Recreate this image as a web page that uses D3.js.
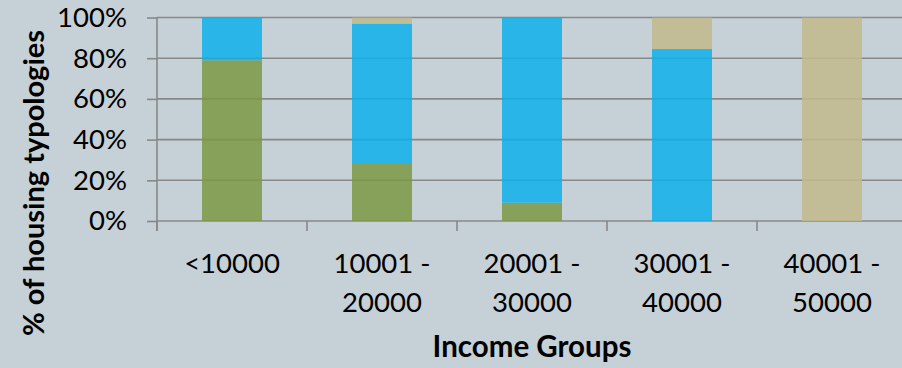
<!DOCTYPE html>
<html>
<head>
<meta charset="utf-8">
<script src="https://cdn.jsdelivr.net/npm/d3@7"></script>
<style>
  html, body { margin: 0; padding: 0; background: #c6d0d7; }
  svg { display: block; }
  text { font-family: Lato, "Open Sans", sans-serif; fill: #000; }
</style>
</head>
<body>
<div id="chart"></div>
<script>
// Income groups on the x axis
const categories = ["<10000", "10001 - 20000", "20001 - 30000", "30001 - 40000", "40001 - 50000"];

// Share of each housing typology per income group (percent, stacked bottom to top)
const greenShare = [79, 28, 9, 0, 0];
const blueShare  = [21, 69, 91, 84.5, 0];
const tanShare   = [0, 3, 0, 15.5, 100];

const yTicks = [0, 20, 40, 60, 80, 100];

const seriesColors = ["#7b9844", "#0db0eb", "#c2ba8c"];

const W = 902, H = 368;
const plot = { left: 157, right: 907, top: 17.5, bottom: 221 };

const svg = d3.select("#chart").append("svg")
  .attr("width", W).attr("height", H);

svg.append("rect").attr("width", W).attr("height", H).attr("fill", "#c6d0d7");

const x = d3.scaleBand()
  .domain(categories)
  .range([plot.left, plot.right])
  .paddingInner(0.6)
  .paddingOuter(0.3);

const y = d3.scaleLinear().domain([0, 100]).range([plot.bottom, plot.top]);

// horizontal gridlines
svg.append("g").selectAll("line")
  .data(yTicks)
  .join("line")
  .attr("x1", plot.left).attr("x2", plot.right)
  .attr("y1", d => y(d)).attr("y2", d => y(d))
  .attr("stroke", "#888888").attr("stroke-width", 1.6);

// y axis: labels and short outer ticks
const yAxis = d3.axisLeft(y)
  .tickValues(yTicks)
  .tickFormat(d => d + "%")
  .tickSize(10)
  .tickPadding(20);

const gy = svg.append("g").attr("transform", `translate(${plot.left},0)`).call(yAxis);
gy.select(".domain").remove();
gy.selectAll(".tick line").attr("stroke", "#888888").attr("stroke-width", 1.6);
gy.selectAll(".tick text")
  .attr("font-family", "Lato, sans-serif")
  .attr("font-size", 27.5)
  .attr("fill", "#000");

// vertical axis line extending to the tick row
svg.append("line")
  .attr("x1", plot.left).attr("x2", plot.left)
  .attr("y1", y(100)).attr("y2", y(0) + 10)
  .attr("stroke", "#888888").attr("stroke-width", 1.6);

// x tick marks at group boundaries
const boundaries = categories.map(c => x(c) - x.step() * x.paddingInner() / 2);
svg.append("g").selectAll("line")
  .data(boundaries)
  .join("line")
  .attr("x1", d => d).attr("x2", d => d)
  .attr("y1", y(0)).attr("y2", y(0) + 10)
  .attr("stroke", "#888888").attr("stroke-width", 1.6);

// stacked bars
const rows = categories.map((c, i) => ({ cat: c, s0: greenShare[i], s1: blueShare[i], s2: tanShare[i] }));
const stack = d3.stack().keys(["s0", "s1", "s2"])(rows);

svg.append("g").selectAll("g")
  .data(stack)
  .join("g")
  .attr("fill", (d, i) => seriesColors[i])
  .attr("fill-opacity", 0.85)
  .selectAll("rect")
  .data(d => d.filter(p => p[1] - p[0] > 0))
  .join("rect")
  .attr("x", d => x(d.data.cat))
  .attr("width", x.bandwidth())
  .attr("y", d => y(d[1]))
  .attr("height", d => y(d[0]) - y(d[1]));

// category labels, wrapped after the dash
const labels = svg.append("g").selectAll("text")
  .data(categories)
  .join("text")
  .attr("text-anchor", "middle")
  .attr("font-size", 27.5)
  .attr("x", d => x(d) + x.bandwidth() / 2)
  .attr("y", 273);

labels.each(function (d) {
  const parts = d.includes(" - ") ? [d.split(" - ")[0] + " -", d.split(" - ")[1]] : [d];
  const t = d3.select(this);
  parts.forEach((p, k) => {
    t.append("tspan")
      .attr("x", x(d) + x.bandwidth() / 2)
      .attr("y", 273 + k * 38.5)
      .text(p);
  });
});

// axis titles
svg.append("text")
  .attr("text-anchor", "middle")
  .attr("font-weight", "bold")
  .attr("font-size", 29.5)
  .attr("x", (plot.left + plot.right) / 2)
  .attr("y", 357)
  .text("Income Groups");

svg.append("text")
  .attr("text-anchor", "middle")
  .attr("font-weight", "bold")
  .attr("font-size", 29)
  .attr("transform", "translate(44,183) rotate(-90)")
  .text("% of housing typologies");
</script>
</body>
</html>
